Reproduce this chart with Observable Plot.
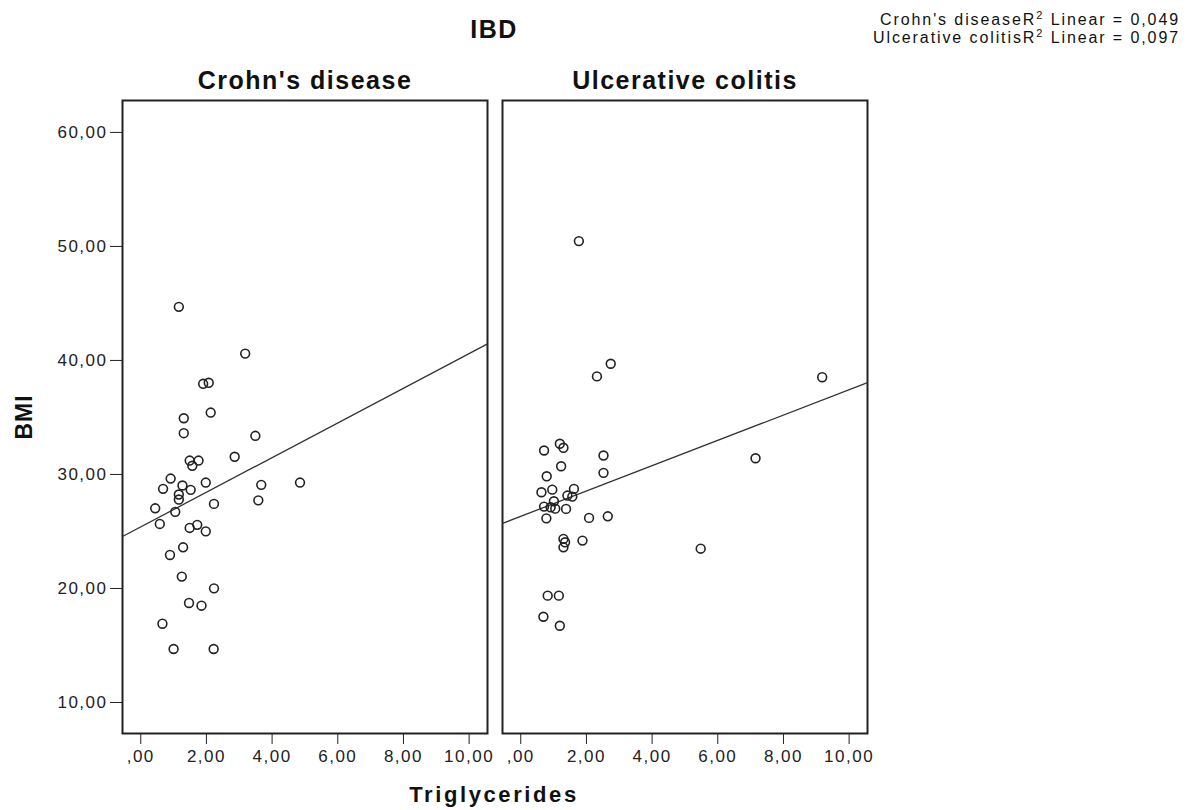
<!DOCTYPE html>
<html>
<head>
<meta charset="utf-8">
<script src="https://cdn.jsdelivr.net/npm/d3@7"></script>
<script src="https://cdn.jsdelivr.net/npm/@observablehq/plot@0.6"></script>
<style>
  html, body { margin: 0; padding: 0; background: #fff; }
  #wrap { position: relative; width: 1194px; height: 810px; font-family: "Liberation Sans", Arial, sans-serif; color: #111; }
  #wrap svg { position: absolute; left: 0; top: 0; }
  .abs { position: absolute; white-space: nowrap; }
  .leg div { height: 18px; line-height: 18px; }
</style>
</head>
<body>
<div id="wrap"></div>
<script>
// ---- Data ----
const groups = ["Crohn's disease", "Ulcerative colitis"];

const crohnTG  = [1.16, 3.18, 1.90, 2.07, 1.31, 2.13, 1.31, 3.49, 2.86, 1.49, 1.76, 1.57, 0.91, 1.98, 3.67, 4.85, 1.27, 0.68, 1.52, 1.16, 1.16, 0.44, 1.05, 2.23, 3.58, 0.58, 1.49, 1.72, 1.98, 1.29, 0.89, 1.25, 2.23, 1.47, 1.85, 0.66, 1.00, 2.22];
const crohnBMI = [44.70, 40.60, 37.95, 38.04, 34.93, 35.43, 33.62, 33.39, 31.55, 31.22, 31.22, 30.76, 29.64, 29.29, 29.09, 29.29, 29.03, 28.74, 28.65, 28.24, 27.80, 27.03, 26.72, 27.42, 27.73, 25.66, 25.31, 25.58, 25.01, 23.61, 22.94, 21.04, 20.01, 18.73, 18.49, 16.91, 14.69, 14.69];

const ucTG  = [1.77, 2.74, 2.32, 9.18, 7.15, 5.48, 0.71, 1.19, 1.30, 2.52, 1.23, 2.52, 0.79, 0.63, 0.96, 1.62, 1.42, 1.57, 1.01, 0.71, 0.91, 1.38, 0.78, 2.08, 2.65, 1.30, 1.35, 1.30, 1.88, 0.82, 1.16, 0.69, 1.19, 1.05];
const ucBMI = [50.47, 39.71, 38.60, 38.53, 31.42, 23.49, 32.10, 32.69, 32.34, 31.66, 30.72, 30.14, 29.84, 28.44, 28.67, 28.73, 28.15, 28.06, 27.65, 27.18, 27.12, 26.98, 26.15, 26.19, 26.33, 24.35, 24.05, 23.61, 24.20, 19.37, 19.37, 17.52, 16.73, 27.00];

// Linear fit lines (intercept, slope) per group, and reported R²
const fitIntercept = [25.40, 26.33];
const fitSlope     = [1.52, 1.11];
const r2Linear     = ["0,049", "0,097"];

// Tick values
const xTicks = [0, 2, 4, 6, 8, 10];
const yTicks = [10, 20, 30, 40, 50, 60];

// ---- Build tables ----
const points = [
  ...crohnTG.map((v, i) => ({group: groups[0], tg: v, bmi: crohnBMI[i]})),
  ...ucTG.map((v, i) => ({group: groups[1], tg: v, bmi: ucBMI[i]}))
];

const xDomain = [-0.556, 10.56];
const yDomain = [7.28, 62.8];

const fits = groups.map((g, i) => ({
  group: g,
  x1: xDomain[0], y1: fitIntercept[i] + fitSlope[i] * xDomain[0],
  x2: xDomain[1], y2: fitIntercept[i] + fitSlope[i] * xDomain[1]
}));

const fmt = v => {
  let s = v.toFixed(2).replace(".", ",");
  if (s.startsWith("0,")) s = s.slice(1);
  return s;
};

const chart = Plot.plot({
  width: 1194,
  height: 810,
  marginLeft: 121,
  marginRight: 327,
  marginTop: 100,
  marginBottom: 77,
  fx: {domain: groups, paddingInner: 0.04, paddingOuter: 0, axis: null},
  x: {domain: xDomain, ticks: xTicks, tickFormat: fmt, tickSize: 11, tickPadding: 5, label: null},
  y: {domain: yDomain, ticks: yTicks, tickFormat: fmt, tickSize: 12, tickPadding: 3, label: null},
  style: {
    fontFamily: "'Liberation Sans', Arial, sans-serif",
    fontSize: "17px",
    letterSpacing: "1.5px",
    color: "#222",
    background: "transparent"
  },
  marks: [
    Plot.frame({stroke: "#222", strokeWidth: 2}),
    Plot.link(fits, {fx: "group", x1: "x1", y1: "y1", x2: "x2", y2: "y2", stroke: "#333", strokeWidth: 1.3}),
    Plot.dot(points, {fx: "group", x: "tg", y: "bmi", r: 4.4, stroke: "#222", strokeWidth: 1.6, fill: "none"}),
    Plot.text(groups, {fx: d => d, text: d => d, frameAnchor: "top", lineAnchor: "middle", dy: -20, fontSize: 25, fontWeight: "bold", fill: "#111"})
  ]
});

const wrap = document.getElementById("wrap");
wrap.appendChild(chart);

function addText(html, css, cls) {
  const d = document.createElement("div");
  d.className = "abs" + (cls ? " " + cls : "");
  d.innerHTML = html;
  Object.assign(d.style, css);
  wrap.appendChild(d);
  return d;
}

// Title
addText("IBD", {left: "494px", top: "29px", transform: "translate(-50%,-50%)", fontSize: "25px", fontWeight: "bold", letterSpacing: "1.5px"});

// R² legend (one block per line so the rows never overlap)
addText(
  groups.map((g, i) => `<div>${g}R<span style="font-size:11px;position:relative;top:-6px">2</span> Linear = ${r2Linear[i]}</div>`).join(""),
  {right: "14px", top: "11px", textAlign: "right", fontSize: "16px", letterSpacing: "1.9px"},
  "leg"
);

// Axis titles
addText("Triglycerides", {left: "494px", top: "795px", transform: "translate(-50%,-50%)", fontSize: "22px", fontWeight: "bold", letterSpacing: "2.6px"});
addText("BMI", {left: "24px", top: "417px", transform: "translate(-50%,-50%) rotate(-90deg)", fontSize: "23px", fontWeight: "bold", letterSpacing: "1px"});
</script>
</body>
</html>
